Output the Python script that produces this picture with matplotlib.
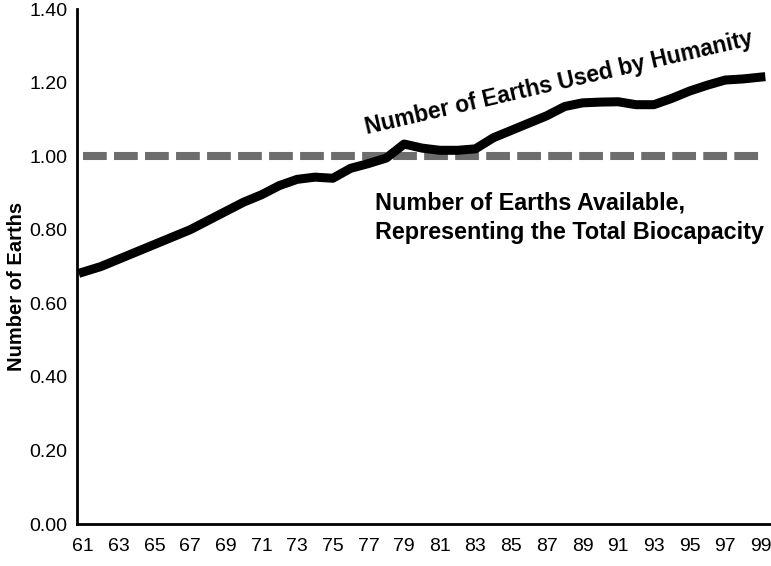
import matplotlib
matplotlib.use('Agg')
import matplotlib.pyplot as plt

plt.rcParams['font.family'] = ['Liberation Sans', 'DejaVu Sans']

years = list(range(61, 100))
earths_used = [0.685, 0.70, 0.72, 0.74, 0.76, 0.78, 0.80, 0.825, 0.85, 0.875,
               0.895, 0.92, 0.937, 0.943, 0.94, 0.967, 0.98, 0.995, 1.033, 1.022,
               1.016, 1.016, 1.02, 1.05, 1.07, 1.09, 1.11, 1.135, 1.145, 1.147,
               1.148, 1.14, 1.14, 1.157, 1.177, 1.193, 1.207, 1.21, 1.215]
earths_available = [1.0] * len(years)
tick_years = years[::2]
y_ticks = [0.0, 0.2, 0.4, 0.6, 0.8, 1.0, 1.2, 1.4]

fig = plt.figure(figsize=(7.71, 5.66), dpi=100)
ax = fig.add_axes([0.0999, 0.0742, 0.9001, 0.9098])

# dashed biocapacity line
ax.plot(years, earths_available, color='#6d6d6d', lw=5.8,
        dashes=(2.95, 0.9), solid_capstyle='butt')
ax.plot(years, earths_used, color='black', lw=6.5, solid_joinstyle='round')

ax.set_xlim(60.66, 99.57)
ax.set_ylim(0, 1.4)
ax.set_xticks(tick_years)
ax.set_xticklabels([str(y) for y in tick_years])
ax.set_yticks(y_ticks)
ax.set_yticklabels([f'{v:.2f}' for v in y_ticks])
ax.tick_params(axis='both', length=0, labelsize=14)
ax.tick_params(axis='y', pad=7)
ax.tick_params(axis='x', pad=10)
ax.spines['top'].set_visible(False)
ax.spines['right'].set_visible(False)
ax.spines['left'].set_linewidth(2)
ax.spines['bottom'].set_linewidth(2)
ax.set_ylabel('Number of Earths', fontsize=14.5, fontweight='bold')
ax.yaxis.set_label_coords(-0.074, 0.462)

ax.text(87.7, 1.2, 'Number of Earths Used by Humanity', fontsize=16.5,
        fontweight='bold', rotation=13, ha='center', va='center',
        rotation_mode='anchor')
ax.text(77.37, 0.832, 'Number of Earths Available,\nRepresenting the Total Biocapacity',
        fontsize=16.8, fontweight='bold', ha='left', va='center', linespacing=1.38)

fig.savefig('out.png', dpi=100)
